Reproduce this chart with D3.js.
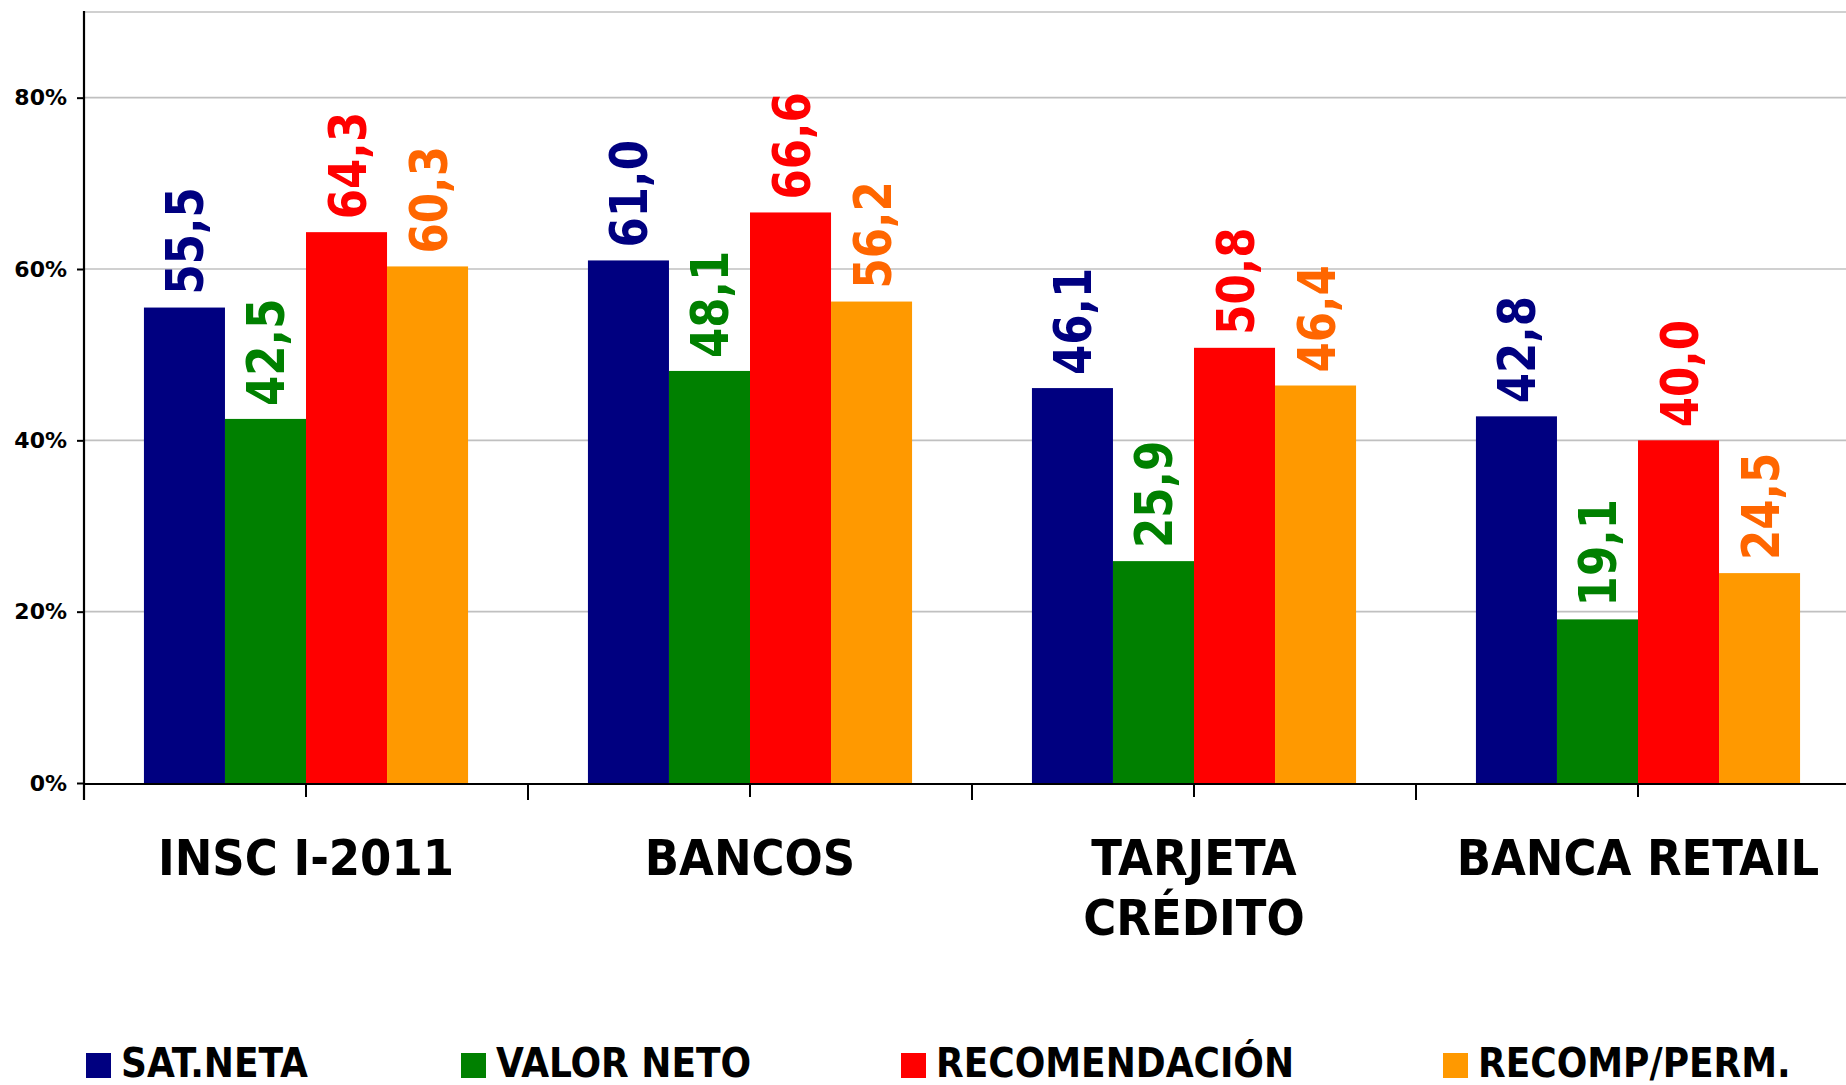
<!DOCTYPE html>
<html>
<head>
<meta charset="utf-8">
<script src="https://cdn.jsdelivr.net/npm/d3@7"></script>
<style>
  html, body { margin: 0; padding: 0; background: #fff; }
  svg { display: block; }
  .cond { font-family: 'DejaVu Sans Condensed', 'DejaVu Sans', sans-serif; font-stretch: condensed; font-weight: bold; }
  .reg { font-family: 'DejaVu Sans', sans-serif; font-weight: bold; }
</style>
</head>
<body>
<svg id="chart" width="1846" height="1085"></svg>
<script>
const categories = [["INSC I-2011"], ["BANCOS"], ["TARJETA", "CRÉDITO"], ["BANCA RETAIL"]];
const categoryKeys = ["INSC I-2011", "BANCOS", "TARJETA CRÉDITO", "BANCA RETAIL"];
const seriesNames = ["SAT.NETA", "VALOR NETO", "RECOMENDACIÓN", "RECOMP/PERM."];
const satNeta = [55.5, 61.0, 46.1, 42.8];
const valorNeto = [42.5, 48.1, 25.9, 19.1];
const recomendacion = [64.3, 66.6, 50.8, 40.0];
const recompPerm = [60.3, 56.2, 46.4, 24.5];
const yTicks = [0, 20, 40, 60, 80];
const gridValues = [20, 40, 60, 80, 90];

const barColors = ["#000080", "#008000", "#FF0000", "#FF9900"];
const labelColors = ["#000080", "#008000", "#FF0000", "#FF6600"];
const seriesValues = [satNeta, valorNeto, recomendacion, recompPerm];

const svg = d3.select("#chart");
const W = 1846;

const y = d3.scaleLinear().domain([0, 90]).range([783, 12]);
const x = d3.scaleBand().domain(categoryKeys).range([84, 1860]).paddingInner(0).paddingOuter(0);
const bw = x.bandwidth();
const xs = d3.scaleBand().domain(seriesNames).range([bw * 0.135, bw * 0.865]).padding(0);

// gridlines
svg.append("g").selectAll("line").data(gridValues).join("line")
  .attr("x1", 84).attr("x2", W)
  .attr("y1", d => y(d)).attr("y2", d => y(d))
  .attr("stroke", "#C0C0C0").attr("stroke-width", 1.6);

// bars
const groups = svg.append("g").selectAll("g").data(categoryKeys).join("g")
  .attr("transform", d => `translate(${x(d)},0)`);

groups.each(function(cat, ci) {
  const g = d3.select(this);
  seriesNames.forEach((s, si) => {
    const v = seriesValues[si][ci];
    g.append("rect")
      .attr("x", xs(s)).attr("width", xs.bandwidth())
      .attr("y", y(v)).attr("height", y(0) - y(v))
      .attr("fill", barColors[si]);
    const cx = xs(s) + xs.bandwidth() / 2;
    g.append("text")
      .attr("class", "cond")
      .attr("transform", `translate(${cx + 19},${y(v) - 13}) rotate(-90) scale(0.93,1)`)
      .attr("text-anchor", "start")
      .attr("font-size", 52)
      .attr("fill", labelColors[si])
      .text(v.toFixed(1).replace(".", ","));
  });
});

// y axis
const yAxis = d3.axisLeft(y).tickValues(yTicks).tickSize(7).tickPadding(10).tickFormat(d => d + "%");
const ya = svg.append("g").attr("transform", "translate(84,0)").call(yAxis);
ya.attr("font-size", null).attr("font-family", null);
ya.select(".domain").remove();
ya.selectAll(".tick line").attr("stroke", "#000").attr("stroke-width", 2);
ya.selectAll(".tick text").attr("class", "reg").attr("font-size", 22).attr("fill", "#000");
svg.append("line").attr("x1", 84).attr("x2", 84).attr("y1", 11).attr("y2", 800)
  .attr("stroke", "#000").attr("stroke-width", 2.2);

// x axis
svg.append("line").attr("x1", 84).attr("x2", W).attr("y1", 784).attr("y2", 784)
  .attr("stroke", "#000").attr("stroke-width", 2.2);
svg.append("g").selectAll("line").data(categoryKeys).join("line")
  .attr("x1", d => x(d)).attr("x2", d => x(d)).attr("y1", 784).attr("y2", 800)
  .attr("stroke", "#000").attr("stroke-width", 2);
svg.append("g").selectAll("line").data(categoryKeys).join("line")
  .attr("x1", d => x(d) + bw / 2).attr("x2", d => x(d) + bw / 2).attr("y1", 784).attr("y2", 797)
  .attr("stroke", "#000").attr("stroke-width", 2);

// category labels
categoryKeys.forEach((k, i) => {
  const t = svg.append("text").attr("class", "cond").attr("font-size", 50)
    .attr("text-anchor", "middle").attr("fill", "#000");
  categories[i].forEach((line, li) => {
    t.append("tspan").attr("x", x(k) + bw / 2).attr("y", 875 + li * 60).text(line);
  });
});

// legend
const legendX = [86, 461, 901, 1443];
const lg = svg.append("g").selectAll("g").data(seriesNames).join("g")
  .attr("transform", (d, i) => `translate(${legendX[i]},0)`);
lg.append("rect").attr("x", 0).attr("y", 1053).attr("width", 25).attr("height", 25)
  .attr("fill", (d, i) => barColors[i]);
lg.append("text").attr("class", "cond").attr("x", 35).attr("y", 1077)
  .attr("font-size", 40).attr("fill", "#000").text(d => d);
</script>
</body>
</html>
